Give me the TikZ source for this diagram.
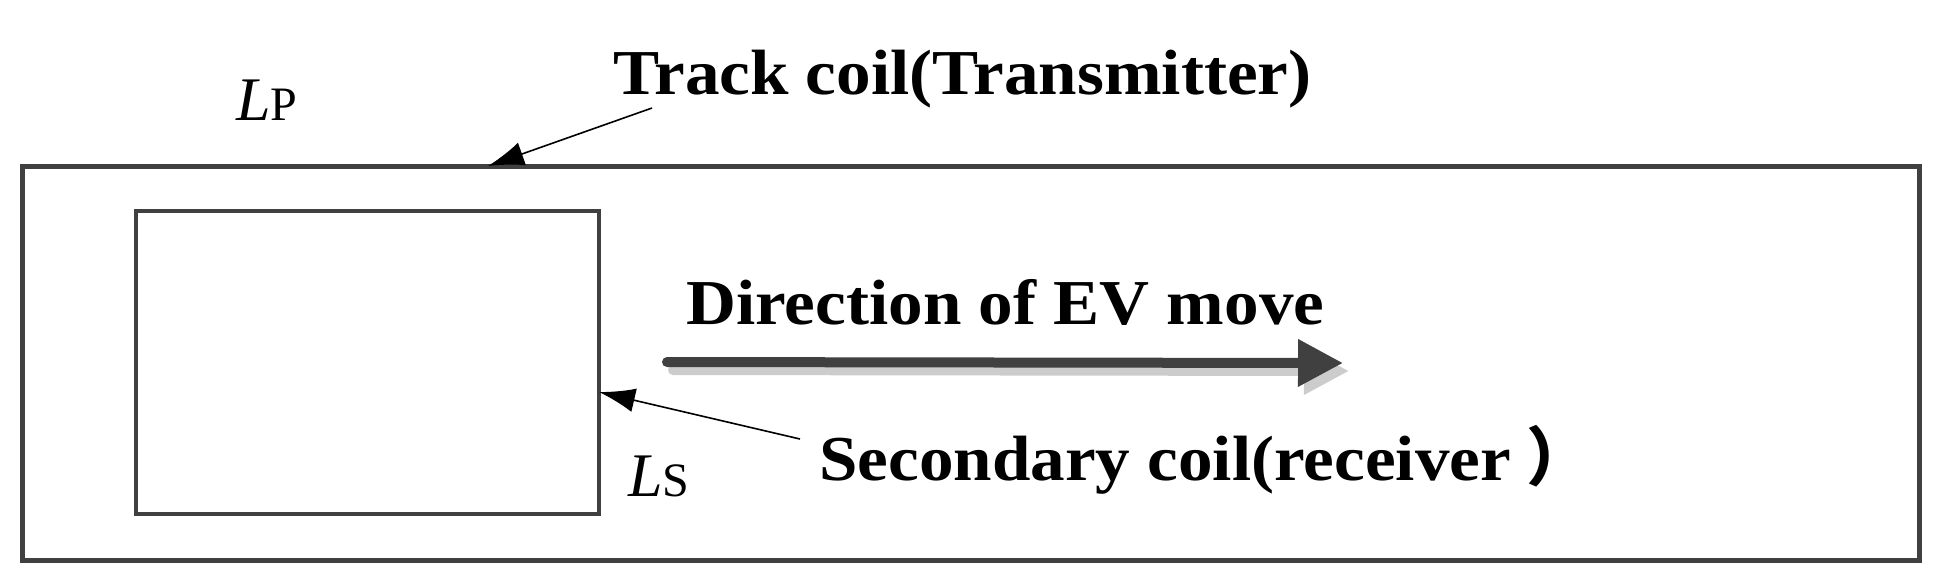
\documentclass[tikz,border=0pt]{standalone}
\usepackage{fontspec}
\setmainfont{Liberation Serif}
\newfontfamily\widefont[FakeStretch=1.08]{Liberation Serif}
\newfontfamily\cjk{Noto Sans CJK SC}
\usetikzlibrary{arrows.meta}
\definecolor{coilgray}{HTML}{404040}
\definecolor{shadegray}{HTML}{CCCCCC}

\begin{document}
\begin{tikzpicture}[x=0.5pt,y=-0.5pt,
  coil/.style={draw=coilgray, line width=2.5pt},
  pointer/.style={-{Latex[length=18pt,width=12pt]}, line width=0.8pt},
  caption/.style={font=\widefont\fontsize{32}{36}\selectfont\bfseries, anchor=base west, inner sep=0pt},
  sym/.style={font=\fontsize{31}{34}\selectfont, anchor=base west, inner sep=0pt},
  move/.style={line width=5pt, line cap=round, -{Triangle[length=22.5pt,width=22.5pt]}}]

\useasboundingbox (0,0) rectangle (1952,586);

% Track coil
\draw[coil] (22,166) rectangle (1919,560);
\coordinate (tracktop) at (488,166);

% Secondary coil
\draw[coil, line width=2pt] (136,211) rectangle (599,514);
\coordinate (secside) at (599,392);

% Labels
\node[sym] (LP) at (236,120) {\textit{L}{\fontsize{24}{26}\selectfont P}};
\node[sym] (LS) at (628,496) {\textit{L}{\fontsize{24}{26}\selectfont S}};

\node[caption] (trackname) at (613,94) {Track coil(Transmitter)};
\node[caption] (dirname)   at (686,324) {Direction of EV move};
\node[caption] (secname)   at (819,480) {Secondary coil(receiver\hspace{8pt}{\cjk ）}};

% Pointers
\coordinate (trackfoot) at (652,108);
\coordinate (secfoot) at (800,439);
\draw[pointer] (trackfoot) -- (tracktop);
\draw[pointer] (secfoot) -- (secside);

% Direction of move
\coordinate (movestart) at (667,362);
\coordinate (moveend) at (1343,363);
\draw[move, shadegray] ([shift={(6,8)}]movestart) -- ([shift={(6,8)}]moveend);
\draw[move, coilgray] (movestart) -- (moveend);

\end{tikzpicture}
\end{document}
